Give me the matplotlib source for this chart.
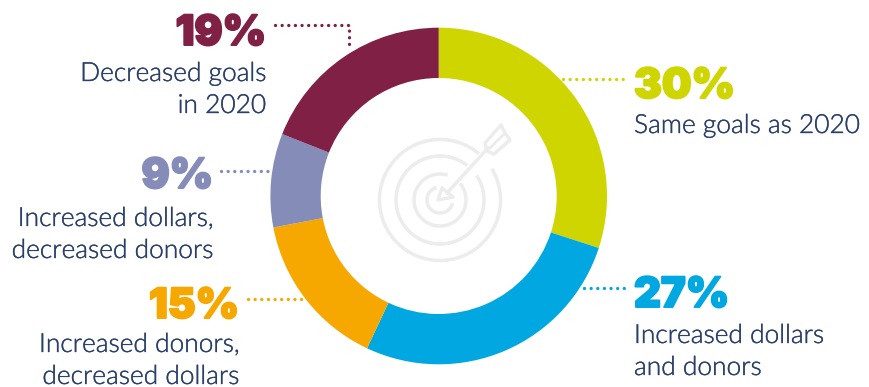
import numpy as np
import matplotlib
matplotlib.use("Agg")
import matplotlib.pyplot as plt
import matplotlib.patheffects as pe
from matplotlib.patches import Arc, Polygon

# Survey results, clockwise from twelve o'clock
categories = ["Same goals as 2020", "Increased dollars\nand donors",
              "Increased donors,\ndecreased dollars",
              "Increased dollars,\ndecreased donors", "Decreased goals\nin 2020"]
shares = [30, 27, 15, 9, 19]
colors = ["#cfd500", "#00a7e1", "#f7a800", "#858cb7", "#7f2044"]

W, H = 870, 387
NAVY = "#2a4069"
ICON = "#ececec"

fig = plt.figure(figsize=(W / 100, H / 100), dpi=100)
ax = fig.add_axes([0, 0, 1, 1])

# The y axis points down, so the counterclockwise flag is flipped for a clockwise ring
ax.pie(shares, colors=colors, startangle=-90, counterclock=True,
       center=(438.7, 196), radius=168.3, frame=True,
       wedgeprops=dict(width=50.3, linewidth=0))
ax.set_xlim(0, W)
ax.set_ylim(H, 0)
ax.set_aspect("equal")
ax.set_axis_off()

big = dict(family="Inter", weight=900, fontsize=30, va="baseline")
body = dict(family="Lato", weight=300, fontsize=18.95, color=NAVY, va="baseline")

# label anchors: alignment, x, baseline of the percentage, baseline of first text line
layout = [
    ("left", 634, 98, 133),
    ("left", 634, 307, 343),
    ("right", 239, 318, 352),
    ("right", 213, 188, 226),
    ("right", 266, 45, 81),
]
line_gap = 32
for name, share, col, (ha, x, y_big, y_txt) in zip(categories, shares, colors, layout):
    t = ax.text(x, y_big, f"{share}%", color=col, ha=ha, **big)
    t.set_path_effects([pe.withStroke(linewidth=1.4, foreground=col)])
    for i, line in enumerate(name.split("\n")):
        txt = ax.text(x, y_txt + i * line_gap, line, ha=ha, **body)
        txt.set_path_effects([pe.withStroke(linewidth=0.25, foreground=NAVY)])

# Dotted leaders joining each label to its slice
leaders = [
    ([563, 626], [79, 79]),
    ([584, 626], [288, 288]),
    ([248, 306], [299, 299]),
    ([221, 271], [171, 171]),
    ([275, 349, 349], [25, 25, 50]),
]
for (xs, ys), col in zip(leaders, colors):
    ax.plot(xs, ys, color=col, lw=2.4, ls=(0, (0.01, 1.98)), dash_capstyle="round", zorder=3)

# Target icon in the hole of the ring
cx, cy = 440, 200
for r, start, end in [(60.5, -31, 310), (44, -34, 308), (26, -40, 287), (13, 14, 255)]:
    ax.add_patch(Arc((cx, cy), 2 * r, 2 * r, theta1=start, theta2=end, color=ICON, lw=2.5))
ax.plot([447, 488], [193, 148], color=ICON, lw=2.5, solid_capstyle="round")
ax.add_patch(Polygon([(438, 200), (442, 188), (453, 197)], closed=True, fill=False, ec=ICON, lw=2.4, joinstyle="round"))
ax.add_patch(Polygon([(485, 143), (501, 125), (505, 133), (510, 140), (494, 154), (487, 151)],
                     closed=True, fill=False, ec=ICON, lw=2.4, joinstyle="round"))
ax.plot([490, 504], [148, 134], color=ICON, lw=2)

fig.savefig("out.png", dpi=100)
